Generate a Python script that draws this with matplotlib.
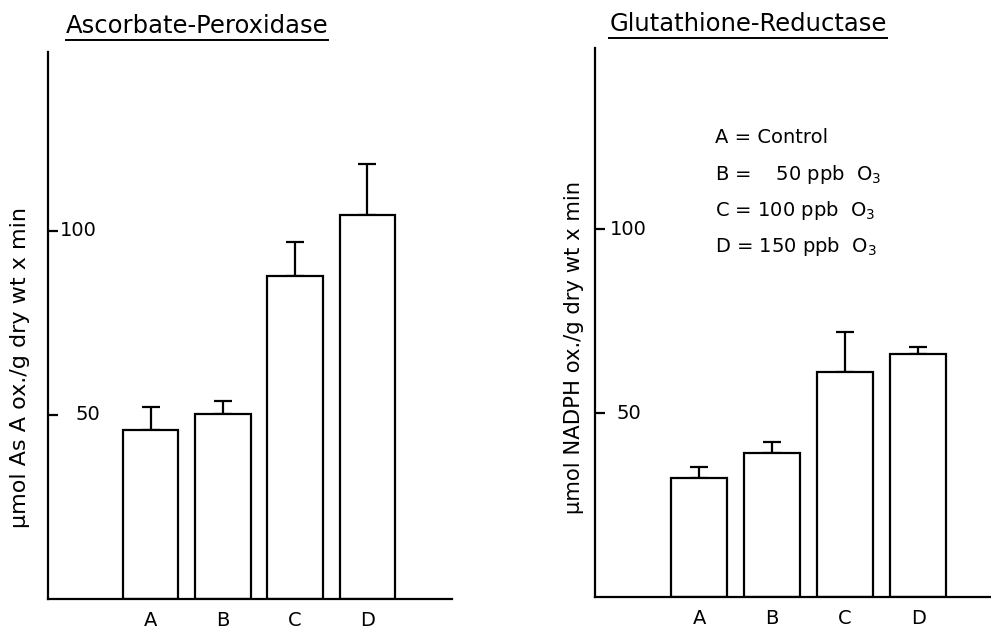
import matplotlib
matplotlib.use("Agg")
import matplotlib.pyplot as plt
from matplotlib.lines import Line2D
import numpy as np

# data
groups = ["A", "B", "C", "D"]
apx_vals = [45.9, 50.3, 87.8, 104.3]
apx_err = [6.3, 3.5, 9.2, 13.9]
gr_vals = [32.3, 39.1, 61.1, 66.0]
gr_err = [3.0, 3.0, 10.9, 2.0]
yticks = [50, 100]
legend_lines = ["A = Control", "B =    50 ppb  O$_3$", "C = 100 ppb  O$_3$", "D = 150 ppb  O$_3$"]

plt.rcParams['font.family'] = ['DejaVu Sans']
plt.rcParams['mathtext.fontset'] = 'dejavusans'

W, H = 991, 631
fig = plt.figure(figsize=(W / 100, H / 100), dpi=100)


def px_ax(x0, y0, x1, y1):
    # axes rect from pixel box (top-left origin)
    return fig.add_axes([x0 / W, 1 - y1 / H, (x1 - x0) / W, (y1 - y0) / H])


def draw_panel(ax, vals, err, xlim, ylim, tick_offsets, ylabel, lsize):
    x = np.arange(len(groups))
    lo = np.zeros(len(vals))
    ax.bar(x, vals, width=0.77, facecolor='white', edgecolor='black', linewidth=1.6, zorder=2)
    ax.errorbar(x, vals, yerr=[lo, err], fmt='none', ecolor='black',
                elinewidth=1.6, capsize=6.5, capthick=1.6, zorder=1)
    ax.set_xlim(*xlim)
    ax.set_ylim(*ylim)
    for s in ['top', 'right']:
        ax.spines[s].set_visible(False)
    for s in ['left', 'bottom']:
        ax.spines[s].set_linewidth(1.6)
    ax.set_xticks(x, groups, fontsize=14)
    ax.tick_params(axis='x', length=0, pad=9)
    ax.set_yticks(yticks)
    ax.set_yticklabels([])
    ax.tick_params(axis='y', direction='in', length=7, width=1.6)
    for v, off in zip(yticks, tick_offsets):
        ax.annotate(str(v), xy=(0, v), xycoords=('axes fraction', 'data'),
                    xytext=(off, 0), textcoords='offset points',
                    ha='left', va='center', fontsize=14)
    ax.set_ylabel(ylabel, fontsize=lsize)


ax1 = px_ax(48, 52, 452, 599)
draw_panel(ax1, apx_vals, apx_err, (-1.42, 4.17), (0, 148.6), [20, 8.5],
           "µmol As A ox./g dry wt x min", 16)
ax1.yaxis.set_label_coords(-18 / 404, (599 - 367) / (599 - 52))

ax2 = px_ax(595, 48, 991, 597)
draw_panel(ax2, gr_vals, gr_err, (-1.43, 4.0), (0, 149.2), [15.5, 10.5],
           "µmol NADPH ox./g dry wt x min", 15.2)
ax2.yaxis.set_label_coords(-11 / 396, (597 - 347) / (597 - 48))

# underlined titles
t1 = fig.text(197 / W, 1 - 26 / H, "Ascorbate-Peroxidase", ha='center', va='center', fontsize=17.5)
t2 = fig.text(748 / W, 1 - 24 / H, "Glutathione-Reductase", ha='center', va='center', fontsize=17.5)

for i, line in enumerate(legend_lines):
    fig.text(715 / W, 1 - [137, 175, 211, 247][i] / H, line, ha='left', va='center', fontsize=14)

fig.canvas.draw()
r = fig.canvas.get_renderer()
for t in (t1, t2):
    bb = t.get_window_extent(r)
    yline = (bb.y0 - 2) / H
    fig.add_artist(Line2D([bb.x0 / W, bb.x1 / W], [yline, yline], color='black', linewidth=1.4))

fig.savefig("out.png", dpi=100)
